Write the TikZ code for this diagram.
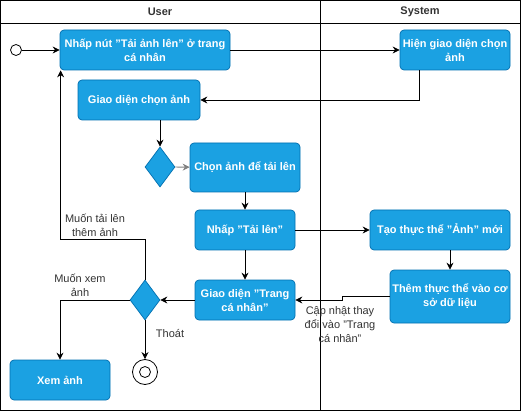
\documentclass[tikz,border=0pt]{standalone}
\usepackage{fontspec}
\setmainfont{Liberation Sans}
\usepackage{xcolor}
\usepackage{tikz}
\usetikzlibrary{arrows.meta,shapes.geometric}
\definecolor{actfill}{HTML}{1BA1E2}
\definecolor{actline}{HTML}{006EAF}
\definecolor{labtext}{HTML}{333333}
\tikzset{
  act/.style={rectangle, rounded corners=4pt, fill=actfill, draw=actline, line width=0.7pt,
    text=white, align=center, inner sep=1pt, font=\bfseries\fontsize{11}{14}\selectfont},
  dec/.style={diamond, fill=actfill, draw=actline, line width=0.7pt, inner sep=0pt,
    minimum width=30pt, minimum height=40pt},
  flow/.style={draw=black, line width=0.8pt, -{Stealth[length=7pt,width=7pt]}},
  lane/.style={draw=black, line width=0.9pt},
  lab/.style={text=labtext, align=center, font=\fontsize{11}{14}\selectfont},
  head/.style={text=labtext, font=\bfseries\fontsize{11}{14}\selectfont},
  startdot/.style={circle, draw=black, fill=white, line width=0.8pt, minimum size=11pt, inner sep=0pt},
  enddot/.style={circle, draw=black, fill=white, line width=0.8pt, minimum size=25pt, inner sep=0pt,
    path picture={\draw[line width=0.8pt] (path picture bounding box.center) circle (5.5pt);}},
}
\begin{document}
\begin{tikzpicture}[x=1pt,y=-1pt]
  \useasboundingbox (0,0) rectangle (521,411);
  % swimlanes
  \draw[lane] (0.5,0.5) rectangle (520.5,410.5);
  \draw[lane] (0.5,23) -- (520.5,23);
  \draw[lane] (320.5,0.5) -- (320.5,410.5);
  \node[head] (huser) at (160,12) {User};
  \node[head] (hsys) at (420,12) {System};

  % activities
  \node[startdot] (start) at (16,50) {};
  \node[act, minimum width=170pt, minimum height=40pt] (click) at (145,50)
    {Nhấp nút "Tải ảnh lên" ở trang\\cá nhân};
  \node[act, minimum width=110pt, minimum height=40pt] (showui) at (455,50)
    {Hiện giao diện chọn\\ảnh};
  \node[act, minimum width=122pt, minimum height=40pt] (pickui) at (139,100)
    {Giao diện chọn ảnh};
  \node[dec] (dpick) at (160,167) {};
  \node[act, minimum width=110pt, minimum height=49pt] (choose) at (245,167.5)
    {Chọn ảnh để tải lên};
  \node[act, minimum width=100pt, minimum height=40pt] (upload) at (245,230)
    {Nhấp "Tải lên"};
  \node[act, minimum width=140pt, minimum height=40pt] (create) at (440,230)
    {Tạo thực thể "Ảnh" mới};
  \node[act, minimum width=120pt, minimum height=53pt] (store) at (450,296.5)
    {Thêm thực thể vào cơ\\sở dữ liệu};
  \node[act, minimum width=100pt, minimum height=40pt] (profile) at (245,300)
    {Giao diện "Trang\\cá nhân"};
  \node[dec] (dnext) at (145,300) {};
  \node[act, minimum width=100pt, minimum height=40pt] (view) at (60,380)
    {Xem ảnh};
  \node[enddot] (stop) at (145,372) {};

  % flows
  \draw[flow] (start) -- (click);
  \draw[flow] (click) -- (showui);
  \draw[flow] ([xshift=20pt]showui.south west) |- (pickui);
  \draw[flow] (pickui.south -| dpick) -- (dpick);
  \draw[flow, draw=gray] (dpick) -- (choose);
  \draw[flow] (choose) -- (upload);
  \draw[flow] (upload) -- (create);
  \draw[flow] (create.south -| store) -- (store);
  \draw[flow] (store.west) -- ++(-47,0) |- (profile.east);
  \draw[flow] (upload) -- (profile);
  \draw[flow] (profile) -- (dnext);
  \draw[flow] (dnext.north) -- ++(0,-40) -| ([xshift=1pt]click.south west);
  \draw[flow] (dnext) -| (view);
  \draw[flow] (dnext) -- (stop);

  % guards
  \node[lab] (gmore) at (95,225) {Muốn tải lên\\thêm ảnh};
  \node[lab] (gview) at (80,285) {Muốn xem\\ảnh};
  \node[lab] (gexit) at (170,334) {Thoát};
  \node[lab] (gupd) at (340,325) {Cập nhật thay\\đổi vào "Trang\\cá nhân"};
\end{tikzpicture}
\end{document}
